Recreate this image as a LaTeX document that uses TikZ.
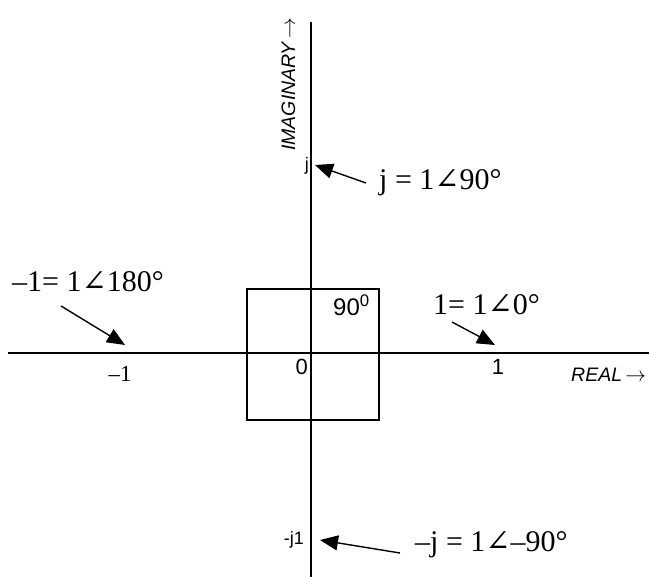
\documentclass[tikz,border=0pt]{standalone}
\usepackage{fontspec}
\setmainfont{Liberation Serif}
\setsansfont{Liberation Sans}
\newfontfamily\symfont{DejaVu Serif}
\newcommand{\angsym}{{\symfont\char"2220}}
\usetikzlibrary{arrows.meta}

\begin{document}
\begin{tikzpicture}[x=1pt, y=-1pt,
    axis/.style={line width=2.2pt},
    pointer/.style={
        line width=1.4pt,
        -{Triangle[length=18pt, width=15pt]}
    },
    polar/.style={font=\fontsize{30}{34}\selectfont, inner sep=0pt},
    tick/.style={font=\sffamily\fontsize{22}{24}\selectfont, inner sep=0pt},
    smalltick/.style={font=\sffamily\fontsize{18}{20}\selectfont, inner sep=0pt},
    axislbl/.style={font=\sffamily\itshape\fontsize{19.5}{22}\selectfont, inner sep=0pt}
]
\useasboundingbox (0,0) rectangle (649,577);

% === Unit square round the origin ===
\draw[line width=1.3pt] (247,289) rectangle (379,420);

% === Axes ===
\coordinate (west) at (8,353);
\coordinate (east) at (649,353);
\coordinate (north) at (311,22);
\coordinate (south) at (311,577);
\draw[axis] (west) -- (east);
\draw[axis] (north) -- (south);

\node[axislbl, anchor=base west] (real) at (571,382) {REAL\,$\rightarrow$};
\node[axislbl, anchor=base west, rotate=90] (imag) at (295,151) {IMAGINARY\,$\rightarrow$};

% === Tick labels ===
\node[tick, anchor=base east] (zero) at (308,375) {0};
\node[tick, anchor=base] (one) at (498,375) {1};
\node[font=\fontsize{23}{26}\selectfont, inner sep=0pt, anchor=base] (mone) at (120,382) {--1};
\node[smalltick, anchor=base east] (jt) at (309,171) {j};
\node[smalltick, anchor=base east] (mjt) at (304,545) {-j1};
\node[font=\sffamily\fontsize{24}{26}\selectfont, inner sep=0pt, anchor=base west] (ninety) at (333,316) {90\textsuperscript{0}};

% === Polar forms ===
\node[polar, anchor=base west] (jlbl) at (379,190) {j = 1\angsym90°};
\node[polar, anchor=base west] (mlbl) at (12,292) {--1= 1\angsym180°};
\node[polar, anchor=base west] (plbl) at (433,315) {1= 1\angsym0°};
\node[polar, anchor=base west] (mjlbl) at (415,552) {--j = 1\angsym--90°};

% === Arrows ===
\coordinate (jtail) at (366,183);
\coordinate (jtip) at (315,165);
\coordinate (mtail) at (61,306);
\coordinate (mtip) at (125,345);
\coordinate (ptail) at (452,322);
\coordinate (ptip) at (495,345);
\coordinate (mjtail) at (400,553);
\coordinate (mjtip) at (320,540);
\draw[pointer] (jtail) -- (jtip);
\draw[pointer] (mtail) -- (mtip);
\draw[pointer] (ptail) -- (ptip);
\draw[pointer] (mjtail) -- (mjtip);

\end{tikzpicture}
\end{document}
